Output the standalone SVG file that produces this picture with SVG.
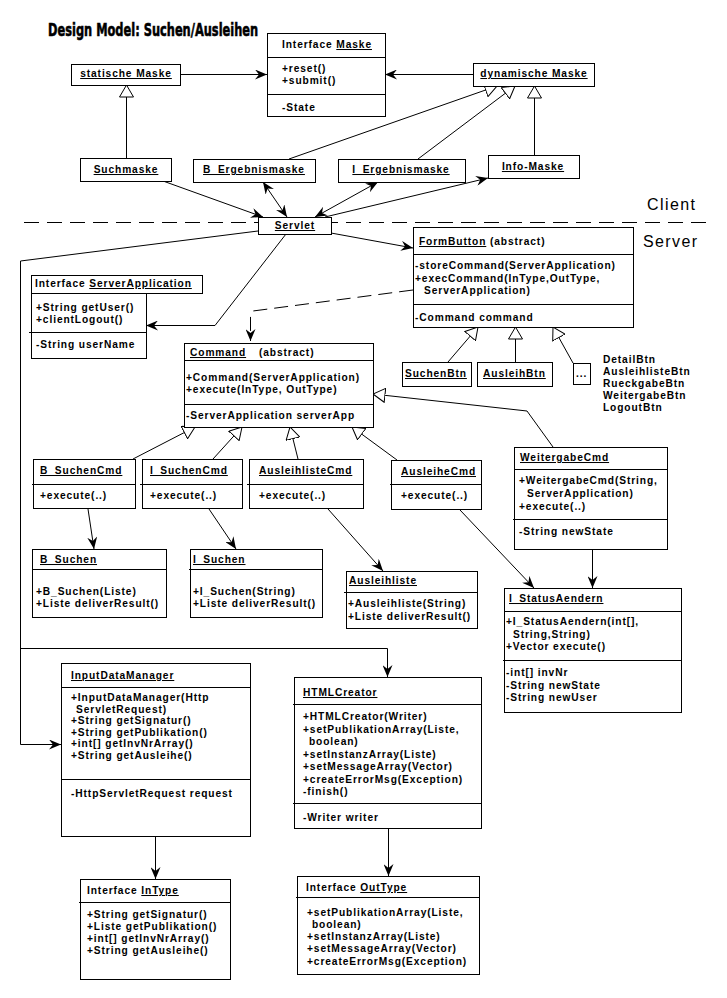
<svg xmlns="http://www.w3.org/2000/svg" width="727" height="998" viewBox="0 0 727 998">
<style>
.box{fill:#fff;stroke:#000;stroke-width:1}
.ln{stroke:#000;stroke-width:1;fill:none}
.t{font-family:"Liberation Sans",Arial,sans-serif;font-size:10.2px;letter-spacing:0.9px;font-weight:bold;fill:#000}
.u{text-decoration:underline}
.a{marker-end:url(#arr)}
.aa{marker-end:url(#arr);marker-start:url(#arrs)}
.g{marker-end:url(#tri)}
.big{font-family:"Liberation Sans",Arial,sans-serif;font-size:16px;fill:#000}
</style>
<defs>
<marker id="arr" viewBox="0 0 12 10" refX="12" refY="5" markerWidth="12" markerHeight="10" markerUnits="userSpaceOnUse" orient="auto"><path d="M0,0 L12,5 L0,10 L4,5 z" fill="#000"/></marker>
<marker id="arrs" viewBox="0 0 12 10" refX="12" refY="5" markerWidth="12" markerHeight="10" markerUnits="userSpaceOnUse" orient="auto-start-reverse"><path d="M0,0 L12,5 L0,10 L4,5 z" fill="#000"/></marker>
<marker id="tri" viewBox="0 0 13 15" refX="12.5" refY="7.5" markerWidth="13" markerHeight="15" markerUnits="userSpaceOnUse" orient="auto"><path d="M0.5,0.5 L12.5,7.5 L0.5,14.5 z" fill="#fff" stroke="#000" stroke-width="1"/></marker>
</defs>
<rect width="727" height="998" fill="#fff"/>
<text transform="translate(48,36) scale(0.633,1)" x="0" y="0" font-family="DejaVu Sans, sans-serif" font-weight="bold" font-size="18" stroke="#000" stroke-width="0.6" textLength="332" lengthAdjust="spacingAndGlyphs">Design Model: Suchen/Ausleihen</text>
<text class="big" x="647" y="210" textLength="48">Client</text>
<text class="big" x="643" y="247" textLength="54">Server</text>
<line class="ln" x1="24" y1="222.5" x2="707" y2="222.5" stroke-dasharray="15 8"/>
<g id="connectors">
<path class="ln a" d="M180,74.5 L267,74.5"/>
<path class="ln a" d="M473,74.5 L385,74.5"/>
<path class="ln g" d="M126.5,158 L126.5,85"/>
<path class="ln g" d="M289,159 L497,86"/>
<path class="ln g" d="M418,159 L515,86"/>
<path class="ln g" d="M534.5,155 L534.5,86"/>
<path class="ln a" d="M163,181 L263,217"/>
<path class="ln aa" d="M263,182 L287,217"/>
<path class="ln aa" d="M378,182 L315,217"/>
<path class="ln a" d="M325,217 L488,178"/>
<path class="ln a" d="M331,233 L413,248"/>
<path class="ln a" d="M286,234 L215,325.5 L146,325.5"/>
<path class="ln a" d="M258,231 L20.5,261 L20.5,744.5 L61,744.5"/>
<path class="ln a" d="M20.5,648.5 L387.5,648.5 L387.5,677"/>
<path class="ln a" d="M413,290 L253,311 L250.5,315 L250.5,341" stroke-dasharray="14 7"/>
<path class="ln g" d="M448,362 L478,327"/>
<path class="ln g" d="M515.5,362 L515.5,327"/>
<path class="ln g" d="M573,363 L553,327"/>
<path class="ln g" d="M133,459 L195,427"/>
<path class="ln g" d="M213,459 L242,427"/>
<path class="ln g" d="M298,459 L290,427"/>
<path class="ln g" d="M397,460 L352,427"/>
<path class="ln g" d="M553,447 L527,411 L373,394"/>
<path class="ln a" d="M88,509 L94,549"/>
<path class="ln a" d="M209,509 L236,549"/>
<path class="ln a" d="M328,509 L383,571"/>
<path class="ln a" d="M460,510 L534,588"/>
<path class="ln a" d="M592.5,549 L592.5,588"/>
<path class="ln a" d="M155.5,836 L155.5,879"/>
<path class="ln a" d="M388.5,828 L388.5,876"/>
</g>
<g id="maske">
<rect class="box" x="267.5" y="33.5" width="118" height="83"/>
<line class="ln" x1="267" y1="57.5" x2="386" y2="57.5"/>
<line class="ln" x1="267" y1="94.5" x2="386" y2="94.5"/>
<text class="t" x="282" y="48">Interface <tspan class="u">Maske</tspan></text>
<text class="t" x="282" y="72">+reset()</text>
<text class="t" x="282" y="84">+submit()</text>
<text class="t" x="282" y="111">-State</text>
</g>
<g id="statischeMaske">
<rect class="box" x="71.5" y="64.5" width="109" height="21"/>
<text class="t u" x="126" y="77" text-anchor="middle">statische Maske</text>
</g>
<g id="dynamischeMaske">
<rect class="box" x="473.5" y="63.5" width="121" height="23"/>
<text class="t u" x="534" y="77" text-anchor="middle">dynamische Maske</text>
</g>
<g id="suchmaske">
<rect class="box" x="80.5" y="158.5" width="91" height="23"/>
<text class="t u" x="126" y="173" text-anchor="middle">Suchmaske</text>
</g>
<g id="bErgebnismaske">
<rect class="box" x="193.5" y="159.5" width="122" height="23"/>
<text class="t u" x="254" y="173" text-anchor="middle">B_Ergebnismaske</text>
</g>
<g id="iErgebnismaske">
<rect class="box" x="338.5" y="159.5" width="127" height="23"/>
<text class="t u" x="401" y="173" text-anchor="middle">I_Ergebnismaske</text>
</g>
<g id="infoMaske">
<rect class="box" x="488.5" y="155.5" width="91" height="23"/>
<text class="t u" x="533" y="170" text-anchor="middle">Info-Maske</text>
</g>
<g id="servlet">
<rect class="box" x="258.5" y="217.5" width="73" height="17"/>
<text class="t u" x="295" y="229" text-anchor="middle">Servlet</text>
</g>
<g id="formButton">
<rect class="box" x="413.5" y="227.5" width="220" height="100"/>
<line class="ln" x1="413" y1="254.5" x2="634" y2="254.5"/>
<line class="ln" x1="413" y1="304.5" x2="634" y2="304.5"/>
<text class="t" x="419" y="245"><tspan class="u">FormButton</tspan> (abstract)</text>
<text class="t" x="415" y="269">-storeCommand(ServerApplication)</text>
<text class="t" x="415" y="281.5">+execCommand(InType,OutType,</text>
<text class="t" x="424" y="294">ServerApplication)</text>
<text class="t" x="415" y="321">-Command command</text>
</g>
<g id="suchenBtn">
<rect class="box" x="402.5" y="362.5" width="69" height="24"/>
<text class="t u" x="405" y="377">SuchenBtn</text>
</g>
<g id="ausleihBtn">
<rect class="box" x="477.5" y="362.5" width="75" height="24"/>
<text class="t u" x="483" y="377">AusleihBtn</text>
</g>
<g id="moreBtn">
<rect class="box" x="573.5" y="363.5" width="17" height="21"/>
<text class="t" x="576" y="377">...</text>
</g>
<g id="btnList">
<text class="t" x="603" y="363">DetailBtn</text>
<text class="t" x="603" y="375">AusleihlisteBtn</text>
<text class="t" x="603" y="387">RueckgabeBtn</text>
<text class="t" x="603" y="399">WeitergabeBtn</text>
<text class="t" x="603" y="411">LogoutBtn</text>
</g>
<g id="serverApplication">
<rect class="box" x="31.5" y="275.5" width="171" height="18"/>
<rect class="box" x="31.5" y="293.5" width="115" height="65"/>
<line class="ln" x1="29" y1="332.5" x2="147" y2="332.5"/>
<text class="t" x="35" y="287">Interface <tspan class="u">ServerApplication</tspan></text>
<text class="t" x="36" y="311">+String getUser()</text>
<text class="t" x="36" y="323">+clientLogout()</text>
<text class="t" x="36" y="348">-String userName</text>
</g>
<g id="command">
<rect class="box" x="184.5" y="343.5" width="189" height="84"/>
<line class="ln" x1="184" y1="360.5" x2="374" y2="360.5"/>
<line class="ln" x1="184" y1="404.5" x2="374" y2="404.5"/>
<text class="t" x="190" y="356"><tspan class="u">Command</tspan></text>
<text class="t" x="259" y="356">(abstract)</text>
<text class="t" x="186" y="381">+Command(ServerApplication)</text>
<text class="t" x="186" y="393">+execute(InType, OutType)</text>
<text class="t" x="186" y="419">-ServerApplication serverApp</text>
</g>
<g id="bSuchenCmd">
<rect class="box" x="33.5" y="459.5" width="102" height="49"/>
<line class="ln" x1="32" y1="484.5" x2="136" y2="484.5"/>
<text class="t u" x="40" y="474">B_SuchenCmd</text>
<text class="t" x="40" y="499">+execute(..)</text>
</g>
<g id="iSuchenCmd">
<rect class="box" x="142.5" y="459.5" width="100" height="49"/>
<line class="ln" x1="140" y1="484.5" x2="243" y2="484.5"/>
<text class="t u" x="150" y="474">I_SuchenCmd</text>
<text class="t" x="150" y="499">+execute(..)</text>
</g>
<g id="ausleihlisteCmd">
<rect class="box" x="249.5" y="459.5" width="114" height="49"/>
<line class="ln" x1="247" y1="484.5" x2="364" y2="484.5"/>
<text class="t u" x="259" y="474">AusleihlisteCmd</text>
<text class="t" x="259" y="499">+execute(..)</text>
</g>
<g id="ausleiheCmd">
<rect class="box" x="391.5" y="460.5" width="90" height="49"/>
<line class="ln" x1="390" y1="484.5" x2="482" y2="484.5"/>
<text class="t u" x="401" y="475">AusleiheCmd</text>
<text class="t" x="401" y="499">+execute(..)</text>
</g>
<g id="weitergabeCmd">
<rect class="box" x="514.5" y="447.5" width="153" height="102"/>
<line class="ln" x1="514" y1="469.5" x2="668" y2="469.5"/>
<line class="ln" x1="513" y1="519.5" x2="668" y2="519.5"/>
<text class="t u" x="520" y="461">WeitergabeCmd</text>
<text class="t" x="519" y="484">+WeitergabeCmd(String,</text>
<text class="t" x="527" y="497">ServerApplication)</text>
<text class="t" x="519" y="510">+execute(..)</text>
<text class="t" x="519" y="535">-String newState</text>
</g>
<g id="bSuchen">
<rect class="box" x="32.5" y="549.5" width="134" height="68"/>
<line class="ln" x1="32" y1="569.5" x2="167" y2="569.5"/>
<text class="t u" x="40" y="563">B_Suchen</text>
<text class="t" x="36" y="595">+B_Suchen(Liste)</text>
<text class="t" x="36" y="607">+Liste deliverResult()</text>
</g>
<g id="iSuchen">
<rect class="box" x="190.5" y="549.5" width="132" height="68"/>
<line class="ln" x1="189" y1="569.5" x2="323" y2="569.5"/>
<text class="t u" x="193" y="563">I_Suchen</text>
<text class="t" x="193" y="595">+I_Suchen(String)</text>
<text class="t" x="193" y="607">+Liste deliverResult()</text>
</g>
<g id="ausleihliste">
<rect class="box" x="346.5" y="571.5" width="131" height="57"/>
<line class="ln" x1="344" y1="592.5" x2="478" y2="592.5"/>
<text class="t u" x="349" y="584">Ausleihliste</text>
<text class="t" x="348" y="607">+Ausleihliste(String)</text>
<text class="t" x="348" y="620">+Liste deliverResult()</text>
</g>
<g id="iStatusAendern">
<rect class="box" x="504.5" y="588.5" width="177" height="124"/>
<line class="ln" x1="504" y1="611.5" x2="682" y2="611.5"/>
<line class="ln" x1="503" y1="660.5" x2="682" y2="660.5"/>
<text class="t u" x="509" y="602">I_StatusAendern</text>
<text class="t" x="506" y="625">+I_StatusAendern(int[],</text>
<text class="t" x="513" y="637.5">String,String)</text>
<text class="t" x="506" y="650">+Vector execute()</text>
<text class="t" x="506" y="676">-int[] invNr</text>
<text class="t" x="506" y="688.5">-String newState</text>
<text class="t" x="506" y="701">-String newUser</text>
</g>
<g id="inputDataManager">
<rect class="box" x="61.5" y="663.5" width="189" height="173"/>
<line class="ln" x1="61" y1="687.5" x2="251" y2="687.5"/>
<line class="ln" x1="61" y1="779.5" x2="251" y2="779.5"/>
<text class="t u" x="71" y="679">InputDataManager</text>
<text class="t" x="71" y="701">+InputDataManager(Http</text>
<text class="t" x="76" y="712.5">ServletRequest)</text>
<text class="t" x="71" y="724">+String getSignatur()</text>
<text class="t" x="71" y="735.5">+String getPublikation()</text>
<text class="t" x="71" y="747">+int[] getInvNrArray()</text>
<text class="t" x="71" y="758.5">+String getAusleihe()</text>
<text class="t" x="71" y="797">-HttpServletRequest request</text>
</g>
<g id="htmlCreator">
<rect class="box" x="294.5" y="677.5" width="187" height="151"/>
<line class="ln" x1="293" y1="704.5" x2="482" y2="704.5"/>
<line class="ln" x1="293" y1="803.5" x2="482" y2="803.5"/>
<text class="t u" x="303" y="696">HTMLCreator</text>
<text class="t" x="303" y="720">+HTMLCreator(Writer)</text>
<text class="t" x="303" y="732.5">+setPublikationArray(Liste,</text>
<text class="t" x="309" y="745">boolean)</text>
<text class="t" x="303" y="757.5">+setInstanzArray(Liste)</text>
<text class="t" x="303" y="770">+setMessageArray(Vector)</text>
<text class="t" x="303" y="782.5">+createErrorMsg(Exception)</text>
<text class="t" x="303" y="795">-finish()</text>
<text class="t" x="303" y="821">-Writer writer</text>
</g>
<g id="inType">
<rect class="box" x="80.5" y="879.5" width="150" height="100"/>
<line class="ln" x1="79" y1="902.5" x2="231" y2="902.5"/>
<text class="t" x="87" y="894">Interface <tspan class="u">InType</tspan></text>
<text class="t" x="87" y="918">+String getSignatur()</text>
<text class="t" x="87" y="930">+Liste getPublikation()</text>
<text class="t" x="87" y="942">+int[] getInvNrArray()</text>
<text class="t" x="87" y="954">+String getAusleihe()</text>
</g>
<g id="outType">
<rect class="box" x="297.5" y="876.5" width="182" height="98"/>
<line class="ln" x1="296" y1="897.5" x2="480" y2="897.5"/>
<text class="t" x="306" y="891">Interface <tspan class="u">OutType</tspan></text>
<text class="t" x="307" y="916">+setPublikationArray(Liste,</text>
<text class="t" x="312" y="928">boolean)</text>
<text class="t" x="307" y="940">+setInstanzArray(Liste)</text>
<text class="t" x="307" y="952">+setMessageArray(Vector)</text>
<text class="t" x="307" y="964.5">+createErrorMsg(Exception)</text>
</g>
</svg>
